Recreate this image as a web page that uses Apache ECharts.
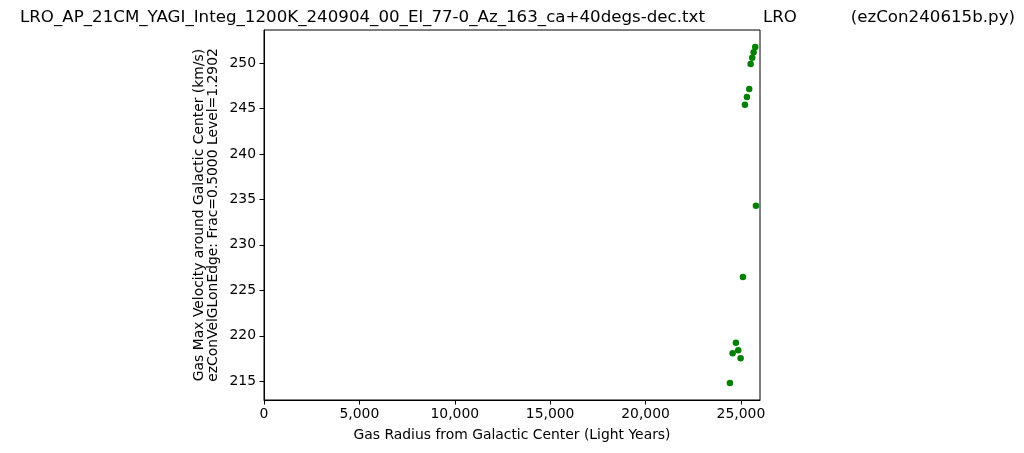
<!DOCTYPE html>
<html><head><meta charset="utf-8">
<script src="https://cdn.jsdelivr.net/npm/echarts@6/dist/echarts.min.js"></script>
<style>html,body{margin:0;padding:0;background:#fff}#c{width:1024px;height:453px}</style>
</head><body><div id="c"></div>
<script>
const radiusLY = [25750, 25666, 25592, 25508, 25435, 25314, 25210, 25786, 25105, 24738, 24858, 24565, 24984, 24423];
const velocity = [251.76, 251.17, 250.58, 249.89, 247.14, 246.26, 245.41, 234.29, 226.48, 219.25, 218.41, 218.08, 217.53, 214.81];
const xTicks = [0, 5000, 10000, 15000, 20000, 25000];
const yTicks = [215, 220, 225, 230, 235, 240, 245, 250];
const titleLeft = "LRO_AP_21CM_YAGI_Integ_1200K_240904_00_El_77-0_Az_163_ca+40degs-dec.txt";
const titleMid = "LRO";
const titleRight = "(ezCon240615b.py)";
const xName = "Gas Radius from Galactic Center (Light Years)";
const yName = "Gas Max Velocity around Galactic Center (km/s)\nezConVelGLonEdge: Frac=0.5000 Level=1.2902";

const font = "DejaVu Sans";
const fs = 13.9, tfs = 16.67;
const chart = echarts.init(document.getElementById('c'), null, {renderer: 'canvas'});
const tStyle = {fontFamily: font, fontSize: tfs, fontWeight: 'normal', color: '#000'};
chart.setOption({
  animation: false,
  backgroundColor: '#fff',
  title: [
    {text: titleLeft, left: 20, top: 9, padding: 0, textStyle: tStyle},
    {text: titleMid, left: 763, top: 9, padding: 0, textStyle: tStyle},
    {text: titleRight, right: 9, top: 9, padding: 0, textStyle: tStyle}
  ],
  grid: {left: 264, right: 264, top: 30, bottom: 53, show: true, borderColor: '#000', borderWidth: 1, backgroundColor: 'transparent'},
  xAxis: {
    type: 'value', min: 0, max: 26000, interval: 5000,
    name: xName, nameLocation: 'middle', nameGap: 28,
    nameTextStyle: {fontFamily: font, fontSize: fs, color: '#000'},
    axisLine: {show: true, onZero: false, lineStyle: {color: '#000', width: 1}},
    axisTick: {show: true, length: 4.5, inside: false, customValues: xTicks, lineStyle: {color: '#000'}},
    axisLabel: {fontFamily: font, fontSize: fs, color: '#000', margin: 7, customValues: xTicks,
      formatter: v => v.toLocaleString('en-US')},
    splitLine: {show: false}
  },
  yAxis: {
    type: 'value', min: 212.95, max: 253.62,
    name: yName, nameLocation: 'middle', nameGap: 43, nameRotate: 90,
    nameTextStyle: {fontFamily: font, fontSize: fs, color: '#000', lineHeight: 14.5},
    axisLine: {show: true, onZero: false, lineStyle: {color: '#000', width: 1}},
    axisTick: {show: true, length: 4.5, inside: false, customValues: yTicks, lineStyle: {color: '#000'}},
    axisLabel: {fontFamily: font, fontSize: fs, color: '#000', margin: 8, customValues: yTicks},
    splitLine: {show: false}
  },
  series: [{
    type: 'scatter',
    data: radiusLY.map((x, i) => [x, velocity[i]]),
    symbol: 'circle', symbolSize: 6.5,
    itemStyle: {color: '#008000', opacity: 1}
  }]
});
</script></body></html>
